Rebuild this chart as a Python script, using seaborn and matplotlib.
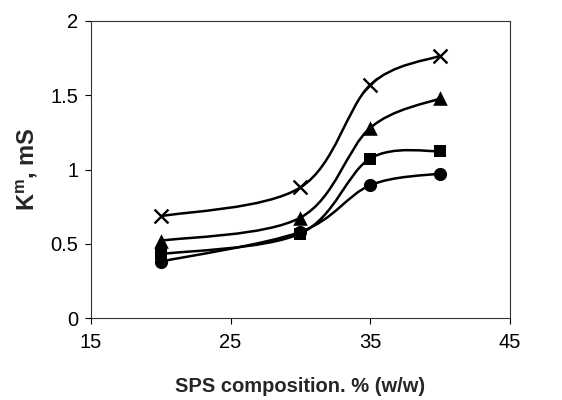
import numpy as np
import pandas as pd
import matplotlib
matplotlib.use('Agg')
import matplotlib.pyplot as plt
from matplotlib.path import Path
from matplotlib.patches import PathPatch
import seaborn as sns

# values
sps = [20, 30, 35, 40]
series_x = [0.685, 0.879, 1.569, 1.766]
series_tri = [0.52, 0.676, 1.28, 1.479]
series_sq = [0.43, 0.569, 1.074, 1.124]
series_circ = [0.38, 0.58, 0.894, 0.973]

x_ticks = [15, 25, 35, 45]
y_ticks = [0, 0.5, 1, 1.5, 2]
y_tick_labels = ['0', '0.5', '1', '1.5', '2']

sns.set_style('ticks')
plt.rcParams['font.family'] = ['Liberation Sans', 'DejaVu Sans']
plt.rcParams['mathtext.fontset'] = 'custom'
plt.rcParams['mathtext.rm'] = 'Liberation Sans:bold'
plt.rcParams['mathtext.it'] = 'Liberation Sans:bold'
plt.rcParams['mathtext.bf'] = 'Liberation Sans:bold'


def smooth_path(xs, ys):
    # Excel-style smoothed line: cubic Bezier through every point
    pts = np.column_stack([xs, ys]).astype(float)
    ext = np.vstack([pts[0], pts, pts[-1]])
    verts = [pts[0]]
    codes = [Path.MOVETO]
    for i in range(len(pts) - 1):
        p0, p1, p2, p3 = ext[i], ext[i + 1], ext[i + 2], ext[i + 3]
        c1 = p1 + (p2 - p0) / 6.0
        c2 = p2 - (p3 - p1) / 6.0
        verts += [c1, c2, p2]
        codes += [Path.CURVE4] * 3
    return Path(verts, codes)


fig = plt.figure(figsize=(5.62, 4.0), dpi=100)
ax = fig.add_axes([0.162, 0.205, 0.745, 0.7425])

series = [
    (series_x, 'x', 100, 1.7),
    (series_tri, '^', 110, 0),
    (series_sq, 's', 85, 0),
    (series_circ, 'o', 90, 0),
]

for vals, mk, size, lw in series:
    patch = PathPatch(smooth_path(sps, vals), facecolor='none',
                      edgecolor='black', lw=1.8, zorder=2)
    ax.add_patch(patch)
    df = pd.DataFrame({'sps': sps, 'k': vals})
    if mk == 'x':
        sns.scatterplot(data=df, x='sps', y='k', marker='x', s=size,
                        color='black', linewidth=lw, ax=ax, zorder=3)
    else:
        sns.scatterplot(data=df, x='sps', y='k', marker=mk, s=size,
                        color='black', edgecolor='black', linewidth=0,
                        ax=ax, zorder=3)

ax.set_xlim(15, 45)
ax.set_ylim(0, 2)
ax.set_xticks(x_ticks)
ax.set_yticks(y_ticks)
ax.set_yticklabels(y_tick_labels)
ax.tick_params(axis='both', labelsize=14.5, length=4, width=0.8,
               direction='out', colors='black')
ax.tick_params(axis='x', pad=7)
ax.tick_params(axis='y', pad=5)

for side in ['top', 'right', 'left', 'bottom']:
    ax.spines[side].set_visible(True)
    ax.spines[side].set_linewidth(0.8)
    ax.spines[side].set_color('#333333')

ax.set_xlabel('SPS composition. % (w/w)', fontsize=14.5, fontweight='bold',
              labelpad=18)
ax.set_ylabel(r'K$^{m}$, mS', fontsize=17, fontweight='bold', labelpad=8)

fig.savefig('out.png', dpi=100, facecolor='white')
